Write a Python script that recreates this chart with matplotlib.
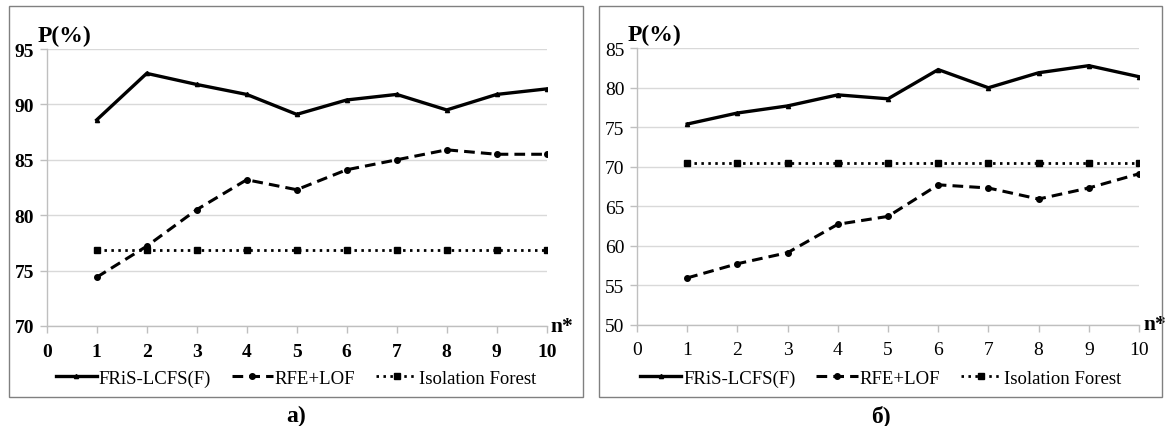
import matplotlib
matplotlib.use("Agg")
import matplotlib.pyplot as plt
from matplotlib.patches import Rectangle

plt.rcParams["font.family"] = ["Liberation Serif", "DejaVu Serif"]

n = [1, 2, 3, 4, 5, 6, 7, 8, 9, 10]
x_ticks = [0, 1, 2, 3, 4, 5, 6, 7, 8, 9, 10]

# panel a)
fris_a = [88.6, 92.8, 91.8, 90.9, 89.1, 90.4, 90.9, 89.5, 90.9, 91.4]
rfe_a = [74.4, 77.2, 80.5, 83.2, 82.3, 84.1, 85.0, 85.9, 85.5, 85.5]
iso_a = [76.9, 76.9, 76.9, 76.9, 76.9, 76.9, 76.9, 76.9, 76.9, 76.9]
yticks_a = [70, 75, 80, 85, 90, 95]

# panel б)
fris_b = [75.4, 76.8, 77.7, 79.1, 78.6, 82.3, 80.0, 81.9, 82.8, 81.4]
rfe_b = [55.9, 57.7, 59.1, 62.7, 63.7, 67.7, 67.3, 65.9, 67.3, 69.1]
iso_b = [70.5, 70.5, 70.5, 70.5, 70.5, 70.5, 70.5, 70.5, 70.5, 70.5]
yticks_b = [50, 55, 60, 65, 70, 75, 80, 85]

labels = ["FRiS-LCFS(F)", "RFE+LOF", "Isolation Forest"]
captions = ["a)", "б)"]

fig = plt.figure(figsize=(11.67, 4.27), dpi=100)

# frames around each panel (pixel boxes converted to figure fractions)
W, H = 1167, 427
for x0, x1 in [(9, 583), (599, 1162)]:
    fig.patches.append(Rectangle((x0 / W, 1 - 398 / H), (x1 - x0) / W, 391 / H,
                                 transform=fig.transFigure, fill=False,
                                 edgecolor="#808080", lw=1.0))

ax_a = fig.add_axes([46.7 / W, 1 - 327 / H, 500 / W, 277 / H])
ax_b = fig.add_axes([637 / W, 1 - 325.5 / H, 502 / W, 276.2 / H])

panels = [
    (ax_a, fris_a, rfe_a, iso_a, yticks_a, "bold", (9, 583)),
    (ax_b, fris_b, rfe_b, iso_b, yticks_b, "normal", (599, 1162)),
]

for i, (ax, fris, rfe, iso, yt, weight, (x0, x1)) in enumerate(panels):
    l1, = ax.plot(n, fris, color="black", lw=2.4, marker="^", ms=3,
                  solid_joinstyle="miter")
    l2, = ax.plot(n, rfe, color="black", lw=2.2, ls=(0, (3.5, 2)),
                  marker="o", ms=4)
    l3, = ax.plot(n, iso, color="black", lw=2.0, ls=(0, (0.9, 1.6)),
                  marker="s", ms=4)

    ax.set_xlim(0, 10)
    ax.set_ylim(yt[0], yt[-1])
    ax.set_xticks(x_ticks)
    ax.set_yticks(yt)
    ax.set_xticklabels([str(t) for t in x_ticks], fontsize=14, fontweight=weight)
    ax.set_yticklabels([str(t) for t in yt], fontsize=14, fontweight=weight)
    ax.grid(axis="y", color="#d9d9d9", lw=1.0)
    ax.set_axisbelow(True)
    for s in ["top", "right"]:
        ax.spines[s].set_visible(False)
    for s in ["left", "bottom"]:
        ax.spines[s].set_color("#bfbfbf")
        ax.spines[s].set_linewidth(1.0)
    ax.tick_params(axis="both", color="#bfbfbf", length=5, width=1.0, pad=4)
    ax.tick_params(axis="x", pad=7)

    ax.text(-0.018, 1.05, "P(%)", transform=ax.transAxes, fontsize=17,
            fontweight="bold", ha="left", va="center")
    ax.text(1.008, 0.0, "n*", transform=ax.transAxes, fontsize=15.5,
            fontweight="bold", ha="left", va="center")

    cx = (x0 + x1) / 2 / W
    fig.legend([l1, l2, l3], labels, loc="center", bbox_to_anchor=(cx, 1 - 379 / H),
               ncol=3, frameon=False, fontsize=13.5, handlelength=2.2,
               handletextpad=0.1, columnspacing=1.1, borderpad=0)
    fig.text(cx, 1 - 416 / H, captions[i], fontsize=17, fontweight="bold",
             ha="center", va="center")

fig.savefig("out.png", dpi=100)
